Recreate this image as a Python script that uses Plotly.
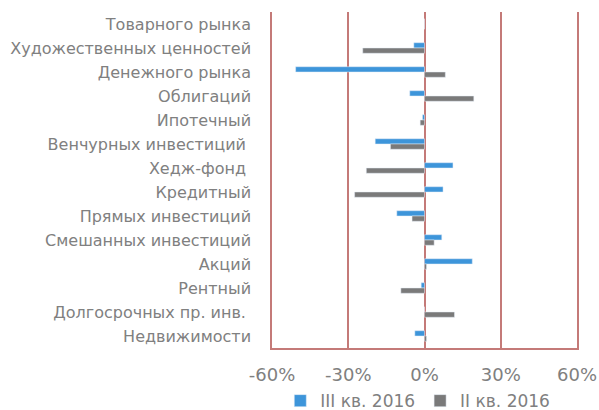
import plotly.graph_objects as go

# Fund categories, listed top to bottom
categories = [
    "Товарного рынка",
    "Художественных ценностей",
    "Денежного рынка",
    "Облигаций",
    "Ипотечный",
    "Венчурных инвестиций ",
    "Хедж-фонд ",
    "Кредитный",
    "Прямых инвестиций",
    "Смешанных инвестиций",
    "Акций",
    "Рентный",
    "Долгосрочных пр. инв. ",
    "Недвижимости",
]

# Change, % — III quarter 2016
q3_2016 = [0.0, -4.2, -50.7, -5.8, -0.8, -19.4, 11.2, 7.3, -10.9, 6.8, 18.8, -1.3, 0.0, -3.8]
# Change, % — II quarter 2016
q2_2016 = [0.0, -24.3, 8.2, 19.4, -1.7, -13.4, -22.9, -27.5, -4.9, 3.8, 0.8, -9.3, 11.8, 0.8]

tick_vals = [-60, -30, 0, 30, 60]
tick_text = ["-60%", "-30%", "0%", "30%", "60%"]

grid_color = "#c47a78"
text_color = "#808080"
font_family = "DejaVu Sans, Liberation Sans, Arial, sans-serif"

fig = go.Figure()
fig.add_trace(go.Bar(
    y=categories, x=q3_2016, orientation="h", name="III кв. 2016",
    marker=dict(color="#3d95da"),
))
fig.add_trace(go.Bar(
    y=categories, x=q2_2016, orientation="h", name="II кв. 2016",
    marker=dict(color="#7a7a7a"),
))

fig.update_layout(
    width=599, height=410,
    margin=dict(l=272, r=22, t=12, b=62, autoexpand=False),
    paper_bgcolor="white", plot_bgcolor="white",
    barmode="group", bargap=0.56, bargroupgap=0,
    font=dict(family=font_family, color=text_color),
    showlegend=True,
    legend=dict(
        orientation="h", x=0.478, xanchor="center",
        y=-0.158, yanchor="middle",
        font=dict(size=17, color=text_color, family=font_family),
        itemwidth=30, tracegroupgap=0,
    ),
    xaxis=dict(
        range=[-60, 60], tickvals=tick_vals, ticktext=tick_text,
        automargin=False,
        showgrid=True, gridcolor=grid_color, gridwidth=1.5,
        zeroline=True, zerolinecolor=grid_color, zerolinewidth=1.5,
        showline=True, linecolor=grid_color, linewidth=1.5,
        ticks="outside", ticklen=10, tickcolor="rgba(0,0,0,0)",
        tickfont=dict(size=18, color=text_color),
    ),
    yaxis=dict(
        autorange="reversed", automargin=False,
        showgrid=False, zeroline=False,
        showline=True, mirror=True, linecolor=grid_color, linewidth=1.5,
        ticks="outside", ticklen=16, tickcolor="rgba(0,0,0,0)",
        tickfont=dict(size=16, color=text_color),
    ),
)

fig.write_html("out.html")
